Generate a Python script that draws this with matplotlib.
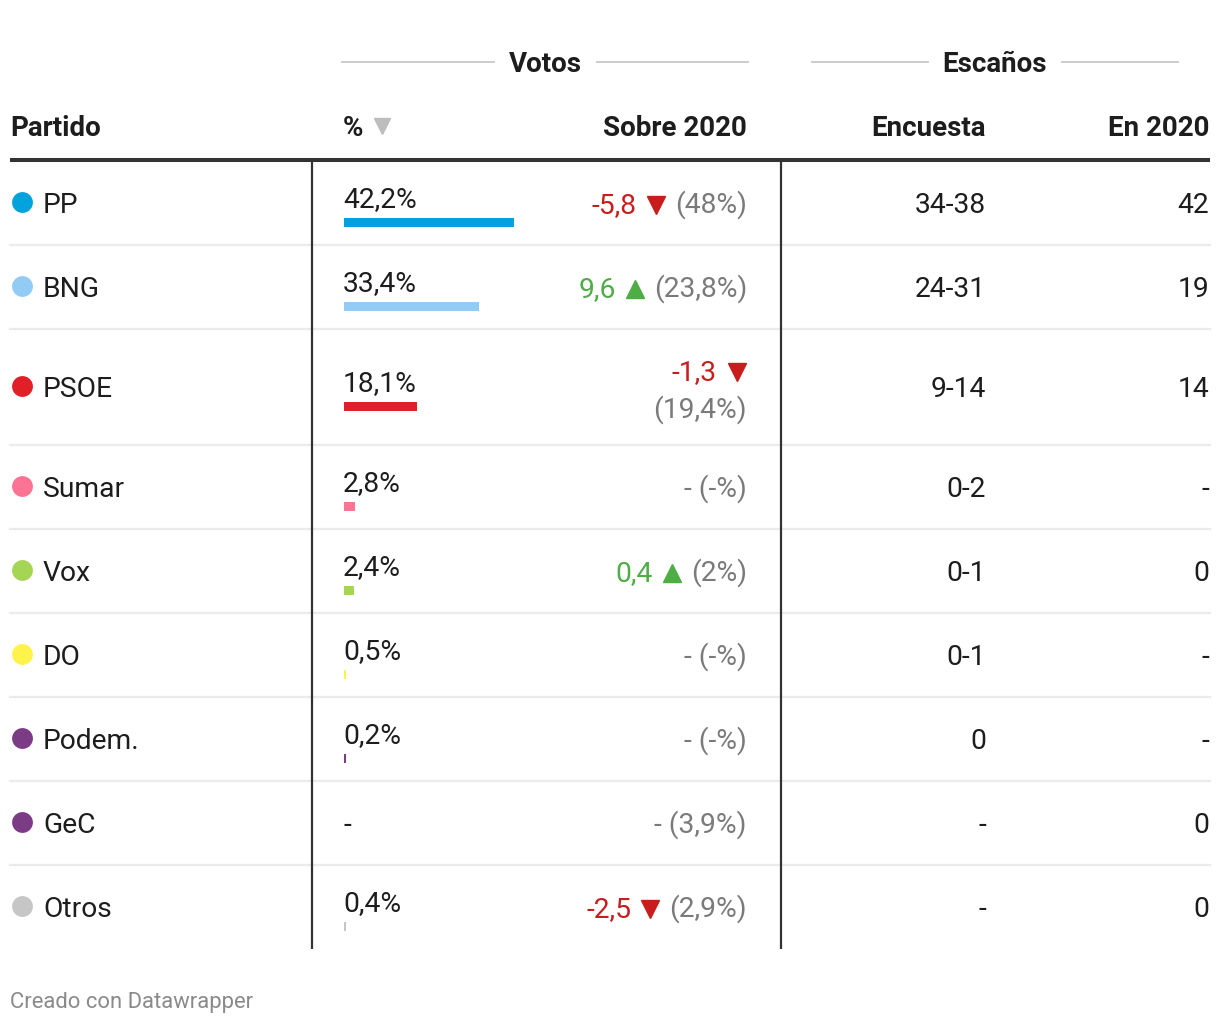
import matplotlib
matplotlib.use('Agg')
import matplotlib.pyplot as plt

# datos de la tabla
partidos = ['PP', 'BNG', 'PSOE', 'Sumar', 'Vox', 'DO', 'Podem.', 'GeC', 'Otros']
colores = ['#02a2dc', '#92cbf4', '#e01f26', '#fd7394', '#a6d454', '#fff24a',
           '#7c3c85', '#7c3c85', '#c6c6c6']
votos_pct = [42.2, 33.4, 18.1, 2.8, 2.4, 0.5, 0.2, None, 0.4]
cambio = [-5.8, 9.6, -1.3, None, 0.4, None, None, None, -2.5]
pct_2020 = [48, 23.8, 19.4, None, 2, None, None, 3.9, 2.9]
encuesta = ['34-38', '24-31', '9-14', '0-2', '0-1', '0-1', '0', '-', '-']
escanos_2020 = ['42', '19', '14', '-', '0', '-', '-', '0', '0']

ROJO = '#c71e1d'
VERDE = '#4ead45'
GRIS = '#7a7a7a'
TXT = '#1d1d1d'

plt.rcParams['font.family'] = ['Roboto', 'DejaVu Sans']

W, H = 1220, 1024
fig = plt.figure(figsize=(W / 100, H / 100), dpi=100)
ax = fig.add_axes([0, 0, 1, 1])
ax.set_xlim(0, W)
ax.set_ylim(H, 0)
ax.axis('off')
renderer = fig.canvas.get_renderer()

FS = 20.3    # cuerpo
FSH = 20     # cabeceras
escala = 170 / 42.2  # px por punto porcentual


def fmt(v):
    return f'{v:g}'.replace('.', ',')


def izq(t):
    return t.get_window_extent(renderer).x0


# cabecera de grupos
for nombre, x0, x1 in [('Votos', 342, 748), ('Escaños', 812, 1178)]:
    t = ax.text((x0 + x1) / 2, 72, nombre, ha='center', va='baseline',
                fontsize=20, fontweight='bold', color=TXT)
    bb = t.get_window_extent(renderer)
    ax.plot([x0, bb.x0 - 15], [62, 62], color='#cccccc', lw=1.4)
    ax.plot([bb.x1 + 15, x1], [62, 62], color='#cccccc', lw=1.4)

# cabecera de columnas
ax.text(10, 136, 'Partido', ha='left', va='baseline', fontsize=FSH,
        fontweight='bold', color=TXT)
ax.text(343, 136, '%', ha='left', va='baseline', fontsize=FSH,
        fontweight='bold', color=TXT)
ax.plot(382, 126, marker='v', ms=11, color='#bdbdbd', ls='none')
ax.text(747, 136, 'Sobre 2020', ha='right', va='baseline', fontsize=FSH,
        fontweight='bold', color=TXT)
ax.text(986, 136, 'Encuesta', ha='right', va='baseline', fontsize=FSH,
        fontweight='bold', color=TXT)
ax.text(1209, 136, 'En 2020', ha='right', va='baseline', fontsize=FSH,
        fontweight='bold', color=TXT)
ax.plot([10, 1210], [159.5, 159.5], color='#333333', lw=2.9,
        solid_capstyle='butt')

X_CAMBIO = 747
ANCHO_MAX = 174
y = 161
for i, p in enumerate(partidos):
    # medir la celda de cambio para decidir si se parte en dos lineas
    partir = False
    if cambio[i] is not None:
        par = '(' + fmt(pct_2020[i]) + '%)'
        tmp1 = ax.text(0, 0, fmt(cambio[i]), fontsize=FS)
        tmp2 = ax.text(0, 0, par, fontsize=FS)
        total = (tmp1.get_window_extent(renderer).width + 38
                 + tmp2.get_window_extent(renderer).width)
        tmp1.remove()
        tmp2.remove()
        partir = total > ANCHO_MAX
    h = 116 if partir else 84
    c = y + h / 2
    base = c + 10

    # partido
    ax.scatter(22, c - 1, s=225, color=colores[i], linewidths=0, zorder=3)
    ax.text(43, base, p, ha='left', va='baseline', fontsize=FS, color=TXT)

    # votos %
    if votos_pct[i] is None:
        ax.text(344, base, '-', ha='left', va='baseline', fontsize=FS,
                color=TXT)
    else:
        ax.text(343, c + 4, fmt(votos_pct[i]) + '%', ha='left',
                va='baseline', fontsize=FS, color=TXT)
        ax.barh(c + 19.5, max(votos_pct[i] * escala, 2), height=9.5,
                left=344, color=colores[i], linewidth=0)

    # sobre 2020
    if cambio[i] is None:
        par = '(' + (fmt(pct_2020[i]) if pct_2020[i] is not None else '-') + '%)'
        ax.text(X_CAMBIO, base, '- ' + par, ha='right', va='baseline',
                fontsize=FS, color=GRIS)
    else:
        col = ROJO if cambio[i] < 0 else VERDE
        mk = 'v' if cambio[i] < 0 else '^'
        par = '(' + fmt(pct_2020[i]) + '%)'
        if partir:
            b1, b2 = base - 17, base + 21
            ax.text(X_CAMBIO, b2, par, ha='right', va='baseline',
                    fontsize=FS, color=GRIS)
            xt = X_CAMBIO - 10
            ax.plot(xt, b1 - 8, marker=mk, ms=13.5, color=col, ls='none')
            ax.text(xt - 20, b1, fmt(cambio[i]), ha='right', va='baseline',
                    fontsize=FS, color=col)
        else:
            t = ax.text(X_CAMBIO, base, par, ha='right', va='baseline',
                        fontsize=FS, color=GRIS)
            xt = izq(t) - 19
            ax.plot(xt, c + 2, marker=mk, ms=13.5, color=col, ls='none')
            ax.text(xt - 19, base, fmt(cambio[i]), ha='right',
                    va='baseline', fontsize=FS, color=col)

    # escaños
    ax.text(986, base, encuesta[i], ha='right', va='baseline', fontsize=FS,
            color=TXT)
    ax.text(1209, base, escanos_2020[i], ha='right', va='baseline',
            fontsize=FS, color=TXT)

    y += h
    if i < len(partidos) - 1:
        ax.plot([10, 1210], [y, y], color='#ebebeb', lw=1.6, zorder=0)

# lineas verticales
for xv in [311.5, 780.5]:
    ax.plot([xv, xv], [161, y], color='#333333', lw=1.6,
            solid_capstyle='butt')

ax.text(10, 1008, 'Creado con Datawrapper', ha='left', va='baseline',
        fontsize=15.8, color='#8a8a8a')

fig.savefig('out.png', dpi=100)
